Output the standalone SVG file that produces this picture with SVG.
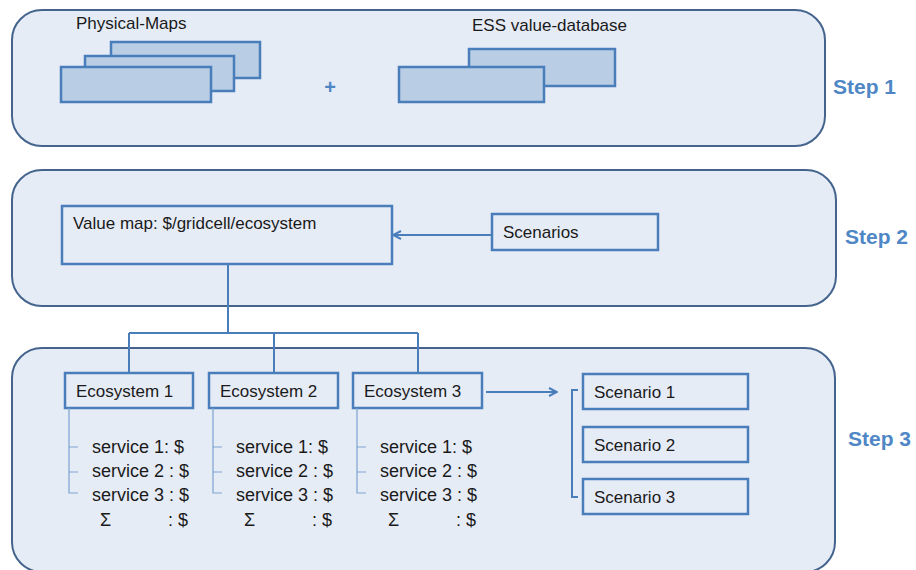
<svg xmlns="http://www.w3.org/2000/svg" width="916" height="570" viewBox="0 0 916 570">
  <style>
    .panel { fill: #e6ecf6; stroke: #44648e; stroke-width: 2; }
    .box { fill: #e6ecf6; stroke: #4a7ebb; stroke-width: 2.5; }
    .map { fill: #b9cde5; stroke: #4a7ebb; stroke-width: 2.5; }
    .lbl { font-family: "Liberation Sans", Arial, sans-serif; font-size: 17px; fill: #1a1a1a; }
    .svc { font-family: "Liberation Sans", Arial, sans-serif; font-size: 18px; fill: #1a1a1a; }
    .step { font-family: "Liberation Sans", Arial, sans-serif; font-size: 21px; font-weight: bold; fill: #4f87c6; }
    .plus { font-family: "Liberation Sans", Arial, sans-serif; font-size: 20px; font-weight: bold; fill: #4f87c6; }
    .link { fill: none; stroke: #4a7ebb; stroke-width: 2; }
    .tree { fill: none; stroke: #7ea3d0; stroke-width: 1.2; }
  </style>
  <defs>
    <marker id="chev" viewBox="0 0 10 10" refX="9" refY="5" markerWidth="10" markerHeight="10" markerUnits="userSpaceOnUse" orient="auto">
      <path d="M1,1 L9,5 L1,9" fill="none" stroke="#4a7ebb" stroke-width="2"/>
    </marker>
  </defs>

  <!-- Step panels -->
  <g id="panel-step1">
    <rect class="panel" x="12" y="10" width="813" height="136" rx="30"/>
    <text class="step" x="833" y="94">Step 1</text>
  </g>
  <g id="panel-step2">
    <rect class="panel" x="12" y="170" width="824" height="136" rx="30"/>
    <text class="step" x="845" y="244">Step 2</text>
  </g>
  <g id="panel-step3">
    <rect class="panel" x="12" y="348" width="823" height="224" rx="30"/>
    <text class="step" x="848" y="446">Step 3</text>
  </g>

  <!-- Step 1 inputs -->
  <g id="physical-maps">
    <rect class="map" x="111" y="42" width="149" height="36"/>
    <rect class="map" x="85" y="56" width="149" height="35"/>
    <rect class="map" x="61" y="67" width="150" height="35"/>
    <text class="lbl" x="76" y="29">Physical-Maps</text>
  </g>
  <g id="plus">
    <text class="plus" x="330" y="94" text-anchor="middle">+</text>
  </g>
  <g id="ess-database">
    <rect class="map" x="469" y="49" width="146" height="37"/>
    <rect class="map" x="399" y="67" width="145" height="35"/>
    <text class="lbl" x="472" y="31">ESS value-database</text>
  </g>

  <!-- Step 2 -->
  <g id="value-map">
    <rect class="box" x="62" y="206" width="330" height="58"/>
    <text class="lbl" x="73" y="229">Value map: $/gridcell/ecosystem</text>
  </g>
  <g id="scenarios">
    <rect class="box" x="492" y="214" width="166" height="36"/>
    <text class="lbl" x="503" y="238">Scenarios</text>
  </g>

  <!-- Step 3 ecosystems -->
  <g id="ecosystem-1">
    <rect class="box" x="65" y="373" width="128" height="35"/>
    <text class="lbl" x="76" y="397">Ecosystem 1</text>
    <path class="tree" d="M69,408 V493 H78 M69,447 H78 M69,472 H78"/>
    <text class="svc" x="92" y="453">service 1: $</text>
    <text class="svc" x="92" y="477">service 2 : $</text>
    <text class="svc" x="92" y="501">service 3 : $</text>
    <text class="svc" y="526"><tspan x="100">Σ</tspan><tspan x="168">: $</tspan></text>
  </g>
  <g id="ecosystem-2">
    <rect class="box" x="209" y="373" width="129" height="35"/>
    <text class="lbl" x="220" y="397">Ecosystem 2</text>
    <path class="tree" d="M213,408 V493 H222 M213,447 H222 M213,472 H222"/>
    <text class="svc" x="236" y="453">service 1: $</text>
    <text class="svc" x="236" y="477">service 2 : $</text>
    <text class="svc" x="236" y="501">service 3 : $</text>
    <text class="svc" y="526"><tspan x="244">Σ</tspan><tspan x="312">: $</tspan></text>
  </g>
  <g id="ecosystem-3">
    <rect class="box" x="353" y="373" width="129" height="35"/>
    <text class="lbl" x="364" y="397">Ecosystem 3</text>
    <path class="tree" d="M357,408 V493 H366 M357,447 H366 M357,472 H366"/>
    <text class="svc" x="380" y="453">service 1: $</text>
    <text class="svc" x="380" y="477">service 2 : $</text>
    <text class="svc" x="380" y="501">service 3 : $</text>
    <text class="svc" y="526"><tspan x="388">Σ</tspan><tspan x="456">: $</tspan></text>
  </g>

  <!-- Step 3 scenarios -->
  <g id="scenario-1">
    <rect class="box" x="583" y="374" width="165" height="35"/>
    <text class="lbl" x="594" y="398">Scenario 1</text>
  </g>
  <g id="scenario-2">
    <rect class="box" x="583" y="427" width="165" height="35"/>
    <text class="lbl" x="594" y="451">Scenario 2</text>
  </g>
  <g id="scenario-3">
    <rect class="box" x="583" y="479" width="165" height="35"/>
    <text class="lbl" x="594" y="503">Scenario 3</text>
  </g>

  <!-- Connectors -->
  <g id="connectors">
    <path class="link" d="M492,235 H393" marker-end="url(#chev)"/>
    <path class="link" d="M228,264 V333 M129,333 H418 M129,333 V373 M274,333 V373 M418,333 V373"/>
    <path class="link" d="M486,392 H557" marker-end="url(#chev)"/>
    <path class="link" d="M578,390 H572 V497 H578"/>
  </g>
</svg>
